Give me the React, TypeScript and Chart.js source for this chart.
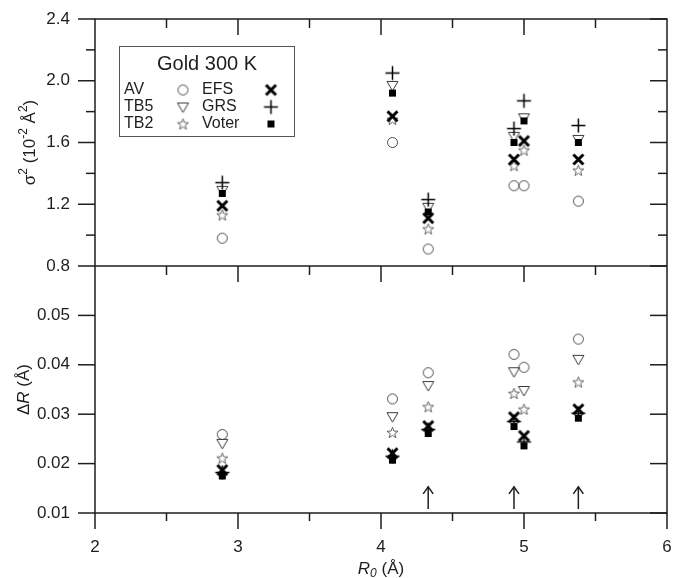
import React, { useEffect, useRef } from 'react';
import { Chart, registerables } from 'chart.js';

Chart.register(...registerables);

// ---------- data ----------
const R0 = [2.89, 4.08, 4.33, 4.93, 5.0, 5.38];

const sigmaAV = [0.98, 1.6, 0.91, 1.32, 1.32, 1.22];
const sigmaTB5 = [1.29, 1.97, 1.18, 1.64, 1.76, 1.62];
const sigmaTB2 = [1.13, 1.75, 1.04, 1.45, 1.55, 1.42];
const sigmaEFS = [1.19, 1.77, 1.11, 1.49, 1.61, 1.49];
const sigmaGRS = [1.34, 2.05, 1.23, 1.69, 1.87, 1.71];
const sigmaVoter = [1.27, 1.92, 1.15, 1.6, 1.74, 1.6];

const dRAV = [0.0259, 0.0331, 0.0384, 0.0421, 0.0395, 0.0452];
const dRTB5 = [0.0241, 0.0295, 0.0358, 0.0386, 0.0348, 0.0411];
const dRTB2 = [0.0211, 0.0263, 0.0315, 0.0342, 0.031, 0.0365];
const dREFS = [0.0187, 0.0221, 0.0276, 0.0294, 0.0256, 0.031];
const dRGRS = [0.0182, 0.0215, 0.0269, 0.0285, 0.0244, 0.0302];
const dRVoter = [0.0175, 0.0207, 0.0261, 0.0275, 0.0236, 0.0292];

const arrowR0 = [4.33, 4.93, 5.38];
const arrowFrom = 0.0108;
const arrowTo = 0.0153;

const xMajor = [2, 3, 4, 5, 6];
const xMinor = [2.5, 3.5, 4.5, 5.5];
const sigmaMajor = [0.8, 1.2, 1.6, 2.0, 2.4];
const sigmaMinor = [1.0, 1.4, 1.8, 2.2];
const dRMajor = [0.01, 0.02, 0.03, 0.04, 0.05];

const legendTitle = 'Gold 300 K';

// ---------- styling ----------
const FONT = '"Liberation Sans", Arial, Helvetica, sans-serif';
const INK = '#1e1e1e';

type Sym = 'circle' | 'triDown' | 'star' | 'x' | 'plus' | 'square';

function makeSymbol(kind: Sym): HTMLCanvasElement {
  const size = 17;
  const c = document.createElement('canvas');
  c.width = size;
  c.height = size;
  const g = c.getContext('2d')!;
  g.translate(size / 2, size / 2);
  g.lineJoin = 'miter';
  switch (kind) {
    case 'circle':
      g.strokeStyle = '#4a4a4a';
      g.lineWidth = 1;
      g.beginPath();
      g.arc(0, 0, 5, 0, Math.PI * 2);
      g.stroke();
      break;
    case 'triDown':
      g.strokeStyle = '#3a3a3a';
      g.lineWidth = 1;
      g.beginPath();
      g.moveTo(-5.5, -4);
      g.lineTo(5.5, -4);
      g.lineTo(0, 5.5);
      g.closePath();
      g.stroke();
      break;
    case 'star': {
      g.strokeStyle = '#555';
      g.lineWidth = 0.9;
      g.beginPath();
      for (let i = 0; i < 10; i++) {
        const a = -Math.PI / 2 + (i * Math.PI) / 5;
        const r = i % 2 === 0 ? 5.8 : 2.4;
        const px = Math.cos(a) * r;
        const py = Math.sin(a) * r + 0.5;
        if (i === 0) g.moveTo(px, py);
        else g.lineTo(px, py);
      }
      g.closePath();
      g.stroke();
      break;
    }
    case 'x':
      g.strokeStyle = '#000';
      g.lineWidth = 3;
      g.beginPath();
      g.moveTo(-5, -5);
      g.lineTo(5, 5);
      g.moveTo(5, -5);
      g.lineTo(-5, 5);
      g.stroke();
      break;
    case 'plus':
      g.strokeStyle = '#000';
      g.lineWidth = 1.5;
      g.beginPath();
      g.moveTo(-7, 0);
      g.lineTo(7, 0);
      g.moveTo(0, -7);
      g.lineTo(0, 7);
      g.stroke();
      break;
    case 'square':
      g.fillStyle = '#000';
      g.fillRect(-3.5, -3.5, 7, 7);
      break;
  }
  return c;
}

type Part = { t: string; italic?: boolean; small?: boolean; dy?: number };

function drawRich(
  ctx: CanvasRenderingContext2D,
  parts: Part[],
  cx: number,
  cy: number,
  angle: number,
  size: number
) {
  ctx.save();
  ctx.translate(cx, cy);
  ctx.rotate(angle);
  const fontFor = (p: Part) =>
    `${p.italic ? 'italic ' : ''}${p.small ? Math.round(size * 0.68) : size}px ${FONT}`;
  let total = 0;
  const widths = parts.map((p) => {
    ctx.font = fontFor(p);
    const w = ctx.measureText(p.t).width;
    total += w;
    return w;
  });
  let x = -total / 2;
  ctx.textAlign = 'left';
  ctx.textBaseline = 'middle';
  ctx.fillStyle = INK;
  parts.forEach((p, i) => {
    ctx.font = fontFor(p);
    ctx.fillText(p.t, x, p.dy || 0);
    x += widths[i];
  });
  ctx.restore();
}

const noPad = (s: any) => {
  s.paddingTop = 0;
  s.paddingBottom = 0;
  s.paddingLeft = 0;
  s.paddingRight = 0;
};

export default function App() {
  const ref = useRef<HTMLCanvasElement>(null);

  useEffect(() => {
    const syms: Record<Sym, HTMLCanvasElement> = {
      circle: makeSymbol('circle'),
      triDown: makeSymbol('triDown'),
      star: makeSymbol('star'),
      x: makeSymbol('x'),
      plus: makeSymbol('plus'),
      square: makeSymbol('square'),
    };

    const models: { name: string; sym: Sym; sigma: number[]; dR: number[] }[] = [
      { name: 'AV', sym: 'circle', sigma: sigmaAV, dR: dRAV },
      { name: 'TB5', sym: 'triDown', sigma: sigmaTB5, dR: dRTB5 },
      { name: 'TB2', sym: 'star', sigma: sigmaTB2, dR: dRTB2 },
      { name: 'EFS', sym: 'x', sigma: sigmaEFS, dR: dREFS },
      { name: 'GRS', sym: 'plus', sigma: sigmaGRS, dR: dRGRS },
      { name: 'Voter', sym: 'square', sigma: sigmaVoter, dR: dRVoter },
    ];

    const datasets: any[] = [];
    models.forEach((m, mi) => {
      datasets.push({
        label: m.name + ' sigma2',
        data: R0.map((r, i) => ({ x: r, y: m.sigma[i] })),
        yAxisID: 'yTop',
        pointStyle: syms[m.sym],
        pointRadius: 7,
        showLine: false,
        order: models.length - mi,
      });
      datasets.push({
        label: m.name + ' dR',
        data: R0.map((r, i) => ({ x: r, y: m.dR[i] })),
        yAxisID: 'yBot',
        pointStyle: syms[m.sym],
        pointRadius: 7,
        showLine: false,
        order: models.length - mi,
      });
    });

    const line = (ctx: CanvasRenderingContext2D, x1: number, y1: number, x2: number, y2: number) => {
      ctx.beginPath();
      ctx.moveTo(x1, y1);
      ctx.lineTo(x2, y2);
      ctx.stroke();
    };

    const decorPlugin = {
      id: 'decor',
      afterDraw(chart: any) {
        const ctx: CanvasRenderingContext2D = chart.ctx;
        const ca = chart.chartArea;
        const sx = chart.scales.x;
        const yT = chart.scales.yTop;
        const yB = chart.scales.yBot;
        const mid = yT.bottom;
        ctx.save();
        ctx.strokeStyle = INK;
        ctx.lineWidth = 1.5;
        ctx.lineCap = 'butt';
        // frame
        ctx.strokeRect(ca.left, ca.top, ca.right - ca.left, ca.bottom - ca.top);
        line(ctx, ca.left, mid, ca.right, mid);

        const MAJ = 17;
        const MIN = 9;
        sigmaMajor.forEach((v) => {
          const p = yT.getPixelForValue(v);
          line(ctx, ca.left - MAJ, p, ca.left, p);
          line(ctx, ca.right - MAJ, p, ca.right, p);
        });
        sigmaMinor.forEach((v) => {
          const p = yT.getPixelForValue(v);
          line(ctx, ca.left - MIN, p, ca.left, p);
          line(ctx, ca.right - MIN, p, ca.right, p);
        });
        dRMajor.forEach((v) => {
          const p = yB.getPixelForValue(v);
          line(ctx, ca.left - MAJ, p, ca.left, p);
          line(ctx, ca.right - MAJ, p, ca.right, p);
        });
        xMajor.forEach((v) => {
          const p = sx.getPixelForValue(v);
          line(ctx, p, ca.bottom, p, ca.bottom + 16);
          if (v > 2 && v < 6) {
            line(ctx, p, ca.top, p, ca.top + 16);
            line(ctx, p, mid, p, mid + 16);
          }
        });
        xMinor.forEach((v) => {
          const p = sx.getPixelForValue(v);
          line(ctx, p, ca.bottom, p, ca.bottom + 8);
          line(ctx, p, ca.top, p, ca.top + 9);
          line(ctx, p, mid, p, mid + 9);
        });

        // arrows
        ctx.lineWidth = 1.5;
        arrowR0.forEach((r) => {
          const px = sx.getPixelForValue(r);
          const a = yB.getPixelForValue(arrowFrom);
          const b = yB.getPixelForValue(arrowTo);
          line(ctx, px, a, px, b);
          ctx.beginPath();
          ctx.moveTo(px - 5, b + 7);
          ctx.lineTo(px, b);
          ctx.lineTo(px + 5, b + 7);
          ctx.stroke();
        });

        // axis titles
        drawRich(
          ctx,
          [
            { t: 'σ' },
            { t: '2', small: true, dy: -6 },
            { t: ' (10' },
            { t: '-2', small: true, dy: -6 },
            { t: ' Å' },
            { t: '2', small: true, dy: -6 },
            { t: ')' },
          ],
          30,
          (ca.top + mid) / 2,
          -Math.PI / 2,
          17
        );
        drawRich(
          ctx,
          [{ t: 'Δ' }, { t: 'R', italic: true }, { t: ' (Å)' }],
          24,
          (mid + ca.bottom) / 2,
          -Math.PI / 2,
          17
        );
        drawRich(
          ctx,
          [{ t: 'R', italic: true }, { t: '0', italic: true, small: true, dy: 5 }, { t: ' (Å)' }],
          (ca.left + ca.right) / 2,
          569,
          0,
          17
        );

        // legend
        ctx.strokeStyle = '#555';
        ctx.lineWidth = 1;
        ctx.strokeRect(119.5, 46.5, 175, 90);
        ctx.fillStyle = INK;
        ctx.textBaseline = 'middle';
        ctx.textAlign = 'center';
        ctx.font = `20px ${FONT}`;
        ctx.fillText(legendTitle, 207, 64);
        ctx.textAlign = 'left';
        ctx.font = `16px ${FONT}`;
        const rowY = [90, 107, 124];
        for (let i = 0; i < 3; i++) {
          const left = models[i];
          const right = models[i + 3];
          ctx.fillText(left.name, 124, rowY[i]);
          ctx.fillText(right.name, 202, rowY[i]);
          const s1 = syms[left.sym];
          const s2 = syms[right.sym];
          ctx.drawImage(s1, 183 - s1.width / 2, rowY[i] - s1.height / 2);
          ctx.drawImage(s2, 271 - s2.width / 2, rowY[i] - s2.height / 2);
        }
        ctx.restore();
      },
    };

    const tickFont = { family: FONT, size: 17 };
    const hiddenGrid = { display: true, drawOnChartArea: false, drawTicks: false, color: 'rgba(0,0,0,0)' };

    const chart = new Chart(ref.current!, {
      type: 'scatter',
      data: { datasets },
      options: {
        animation: false,
        responsive: false,
        devicePixelRatio: 1,
        layout: { padding: { top: 19, right: 5, left: 0, bottom: 0 } },
        plugins: { legend: { display: false }, tooltip: { enabled: false } },
        scales: {
          x: {
            type: 'linear',
            position: 'bottom',
            min: 2,
            max: 6,
            afterBuildTicks: (s: any) => {
              s.ticks = xMajor.map((v) => ({ value: v }));
            },
            ticks: { font: tickFont, color: INK, padding: 24, callback: (v: any) => String(v) },
            grid: hiddenGrid,
            border: { display: false },
            afterFit: (s: any) => {
              s.height = 65;
              noPad(s);
            },
          },
          yTop: {
            type: 'linear',
            position: 'left',
            stack: 'panels',
            stackWeight: 1,
            weight: 2,
            min: 0.8,
            max: 2.4,
            afterBuildTicks: (s: any) => {
              s.ticks = sigmaMajor.map((v) => ({ value: v }));
            },
            ticks: { font: tickFont, color: INK, padding: 25, callback: (v: any) => Number(v).toFixed(1) },
            grid: hiddenGrid,
            border: { display: false },
            afterFit: (s: any) => {
              s.width = 95;
              noPad(s);
            },
          },
          yBot: {
            type: 'linear',
            position: 'left',
            stack: 'panels',
            stackWeight: 1,
            weight: 1,
            min: 0.01,
            max: 0.06,
            afterBuildTicks: (s: any) => {
              s.ticks = dRMajor.map((v) => ({ value: v }));
            },
            ticks: { font: tickFont, color: INK, padding: 25, callback: (v: any) => Number(v).toFixed(2) },
            grid: hiddenGrid,
            border: { display: false },
            afterFit: (s: any) => {
              s.width = 95;
              noPad(s);
            },
          },
        },
      } as any,
      plugins: [decorPlugin],
    });
    return () => chart.destroy();
  }, []);

  return (
    <div style={{ position: 'fixed', left: 0, top: 0, width: 675, height: 578, background: '#fff' }}>
      <canvas ref={ref} width={675} height={578} style={{ display: 'block' }} />
    </div>
  );
}
